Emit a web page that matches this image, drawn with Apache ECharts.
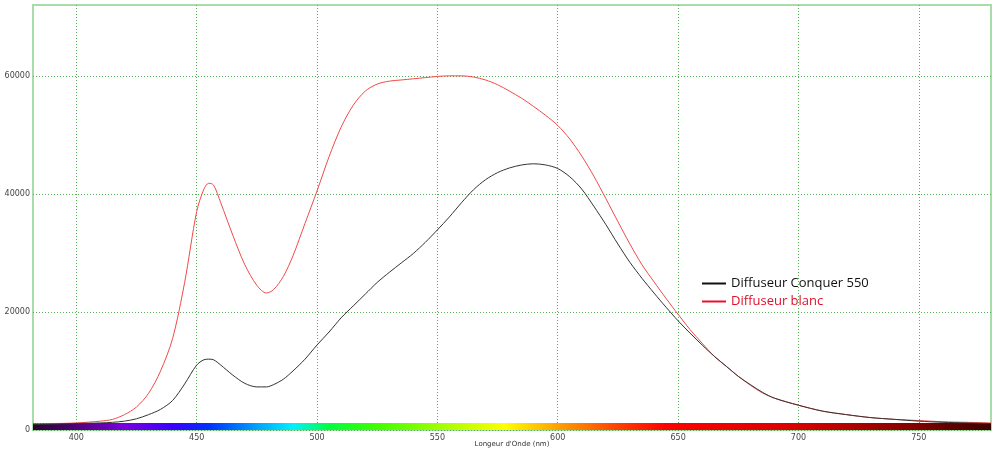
<!DOCTYPE html>
<html>
<head>
<meta charset="utf-8">
<script src="https://cdn.jsdelivr.net/npm/echarts@6/dist/echarts.min.js"></script>
<style>
  html, body { margin: 0; padding: 0; background: #fff; }
  #chart { width: 1000px; height: 452px; }
</style>
</head>
<body>
<div id="chart"></div>
<script>
// wavelengths (nm)
const wavelengths = [382, 390, 400, 410, 415, 420, 425, 430, 435, 440, 445, 450, 453, 455, 457, 460, 465, 470, 475, 479,
  482, 486, 490, 495, 500, 505, 510, 515, 520, 525, 530, 535, 540, 545, 550, 555, 560, 565, 570, 575,
  580, 585, 590, 595, 600, 605, 610, 615, 620, 625, 630, 635, 640, 645, 650, 655, 660, 665, 670, 675,
  680, 685, 690, 700, 710, 720, 730, 740, 750, 760, 770, 780];

const conquerValues = [900, 1000, 1100, 1200, 1300, 1500, 1900, 2600, 3500, 5000, 7800, 11000, 11900, 12000, 11900, 11000, 9300, 7900, 7300, 7300,
  7700, 8600, 10000, 12000, 14400, 16600, 19000, 21000, 23000, 25000, 26700, 28300, 29900, 31800, 33900, 36100, 38500, 40700, 42400, 43600,
  44400, 44900, 45100, 44900, 44300, 42900, 40800, 37900, 34800, 31500, 28400, 25700, 23200, 20800, 18500, 16400, 14400, 12500, 10800, 9100,
  7700, 6400, 5400, 4200, 3200, 2600, 2100, 1800, 1500, 1300, 1200, 1100];

const blancValues = [1100, 1100, 1200, 1500, 1800, 2600, 3900, 6200, 10000, 15500, 25000, 37000, 40800, 41800, 41500, 38500, 33000, 28000, 24500, 23200,
  23800, 26000, 29500, 35000, 40500, 46300, 51300, 55000, 57400, 58600, 59100, 59300, 59500, 59700, 59900, 60000, 60000, 59800, 59300, 58500,
  57400, 56200, 54800, 53300, 51600, 49300, 46400, 43000, 39200, 35300, 31500, 28000, 25100, 22300, 19600, 17000, 14700, 12500, 10800, 9100,
  7600, 6300, 5400, 4200, 3200, 2600, 2100, 1800, 1600, 1400, 1300, 1200];

const xTicks = [400, 450, 500, 550, 600, 650, 700, 750];
const yTicks = [0, 20000, 40000, 60000];

// colour of the spectrum strip along the bottom
const spectrumStops = [
  [382, '#2a0030'], [400, '#50007a'], [420, '#7a00e0'], [440, '#3a00ff'], [455, '#0030ff'],
  [475, '#00a0ff'], [490, '#00f0ff'], [505, '#00ff40'], [525, '#40ff00'], [555, '#b0ff00'],
  [578, '#ffff00'], [600, '#ffa000'], [625, '#ff4000'], [645, '#ff0000'], [700, '#d80000'],
  [750, '#800000'], [780, '#3a0000']
];

const xMin = 382, xMax = 780;

const pairs = (vals) => wavelengths.map((w, i) => [w, vals[i]]);

const chart = echarts.init(document.getElementById('chart'));

const gradient = new echarts.graphic.LinearGradient(0, 0, 1, 0,
  spectrumStops.map(([w, c]) => ({ offset: (w - xMin) / (xMax - xMin), color: c })));

const gridLine = { show: true, lineStyle: { color: '#55b055', type: [1, 2], width: 1 } };
const labelFont = { fontSize: 8, color: '#444', fontFamily: 'DejaVu Sans' };

const option = {
  animation: false,
  grid: {
    left: 33, right: 9, top: 5, bottom: 22,
    outerBoundsMode: 'none', containLabel: false,
    show: true, borderColor: '#a8dca8', borderWidth: 2, backgroundColor: '#fff'
  },
  xAxis: {
    type: 'value', min: xMin, max: xMax,
    name: "Longeur d'Onde (nm)", nameLocation: 'middle', nameGap: 11, nameMoveOverlap: false,
    nameTextStyle: { fontSize: 7, color: '#333', fontFamily: 'DejaVu Sans' },
    axisLine: { show: false },
    axisTick: { show: false, customValues: xTicks },
    axisLabel: Object.assign({ margin: 4, customValues: xTicks, formatter: (v) => String(v) }, labelFont),
    splitLine: gridLine
  },
  yAxis: {
    type: 'value', min: 0, max: 72000,
    name: 'Intensité', nameLocation: 'middle', nameGap: 27, nameRotate: 90,
    nameTextStyle: { fontSize: 7, color: '#333', fontFamily: 'DejaVu Sans' },
    axisLine: { show: false },
    axisTick: { show: false, customValues: yTicks },
    axisLabel: Object.assign({ margin: 3, customValues: yTicks, formatter: (v) => String(v) }, labelFont),
    splitLine: gridLine
  },
  legend: {
    orient: 'vertical', left: 697, top: 272, itemWidth: 24, itemHeight: 2, itemGap: 5,
    icon: 'rect',
    textStyle: { fontSize: 13, fontFamily: 'Open Sans' },
    data: [
      { name: 'Diffuseur Conquer 550', textStyle: { color: '#111' } },
      { name: 'Diffuseur blanc', textStyle: { color: '#e0102a' } }
    ]
  },
  series: [
    {
      name: 'Diffuseur blanc', type: 'line', data: pairs(blancValues),
      smooth: 0.3, showSymbol: false, symbol: 'none',
      lineStyle: { color: '#f04a4a', width: 1 }, itemStyle: { color: '#e8102a' },
      z: 3
    },
    {
      name: 'Diffuseur Conquer 550', type: 'line', data: pairs(conquerValues),
      smooth: 0.3, showSymbol: false, symbol: 'none',
      lineStyle: { color: '#333', width: 1 }, itemStyle: { color: '#111' },
      clip: false,
      markArea: {
        silent: true,
        itemStyle: { color: gradient },
        data: [[{ coord: [xMin, -170] }, { coord: [xMax, 1190] }]]
      },
      z: 4
    }
  ]
};

chart.setOption(option);
</script>
</body>
</html>
